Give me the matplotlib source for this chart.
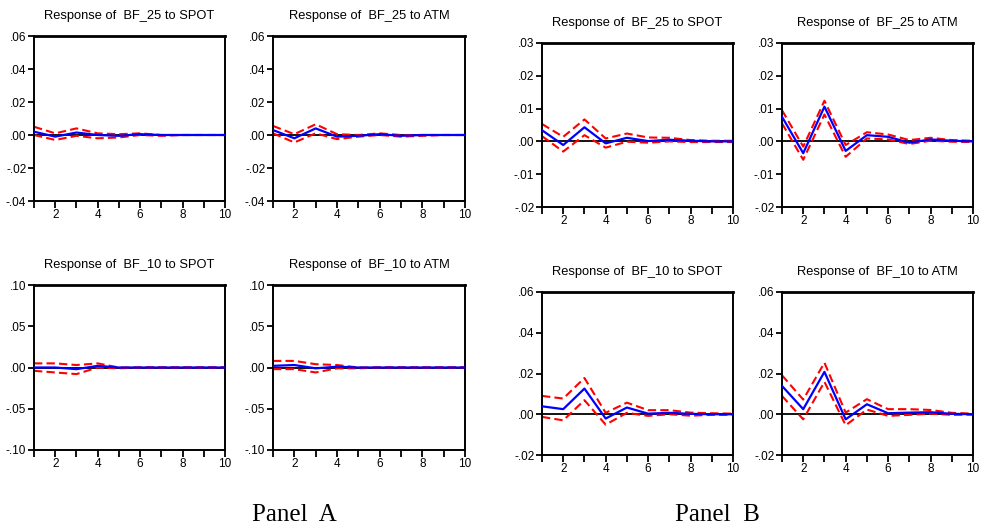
import numpy as np
import matplotlib
matplotlib.use('Agg')
import matplotlib.pyplot as plt
from matplotlib.ticker import FuncFormatter

periods = np.arange(1, 11)

# Panel A
a_25_spot = [0.002, -0.001, 0.0015, 0.0, -0.0005, 0.0005, 0.0, 0.0, 0.0, 0.0]
a_25_spot_hi = [0.005, 0.001, 0.004, 0.001, 0.0005, 0.001, 0.0, 0.0, 0.0, 0.0]
a_25_spot_lo = [0.0, -0.003, -0.0005, -0.002, -0.0015, 0.0, -0.0005, 0.0, 0.0, 0.0]

a_25_atm = [0.003, -0.002, 0.004, -0.001, -0.0005, 0.0005, -0.0005, 0.0, 0.0, 0.0]
a_25_atm_hi = [0.0055, 0.0005, 0.0065, 0.0005, 0.0, 0.001, 0.0, 0.0, 0.0, 0.0]
a_25_atm_lo = [0.001, -0.0045, 0.001, -0.0025, -0.001, 0.0, -0.001, -0.0005, 0.0, 0.0]

a_10_spot = [0.0, 0.0, -0.002, 0.002, 0.0, 0.0, 0.0, 0.0, 0.0, 0.0]
a_10_spot_hi = [0.005, 0.005, 0.003, 0.005, 0.0, 0.0, 0.0, 0.0, 0.0, 0.0]
a_10_spot_lo = [-0.004, -0.006, -0.008, 0.0, -0.001, 0.0, 0.0, 0.0, 0.0, 0.0]

a_10_atm = [0.002, 0.003, -0.001, 0.001, 0.0, 0.0, 0.0, 0.0, 0.0, 0.0]
a_10_atm_hi = [0.008, 0.008, 0.004, 0.003, 0.0, 0.0, 0.0, 0.0, 0.0, 0.0]
a_10_atm_lo = [-0.002, -0.002, -0.006, -0.001, -0.001, 0.0, 0.0, 0.0, 0.0, 0.0]

# Panel B
b_25_spot = [0.0034, -0.0011, 0.0043, -0.0006, 0.0011, 0.0001, 0.0005, 0.0002, 0.0, 0.0]
b_25_spot_hi = [0.0053, 0.0014, 0.0067, 0.0009, 0.0024, 0.0012, 0.0011, 0.0004, 0.0002, 0.0002]
b_25_spot_lo = [0.0016, -0.0031, 0.0019, -0.0019, -0.0001, -0.0004, 0.0, -0.0002, -0.0002, -0.0002]

b_25_atm = [0.0075, -0.0036, 0.0106, -0.0029, 0.0019, 0.0014, -0.0004, 0.0006, 0.0002, 0.0]
b_25_atm_hi = [0.0095, -0.0016, 0.0124, -0.0011, 0.0028, 0.0021, 0.0004, 0.0011, 0.0004, 0.0002]
b_25_atm_lo = [0.0055, -0.0056, 0.0082, -0.0047, 0.0009, 0.0006, -0.0008, 0.0002, -0.0001, -0.0002]

b_10_spot = [0.0039, 0.0025, 0.0126, -0.0021, 0.0033, 0.0003, 0.0007, 0.0002, 0.0, 0.0]
b_10_spot_hi = [0.009, 0.0077, 0.0178, 0.0007, 0.0057, 0.002, 0.002, 0.0008, 0.0005, 0.0003]
b_10_spot_lo = [-0.0013, -0.003, 0.0069, -0.0051, 0.0007, -0.0008, 0.0, -0.0007, -0.0003, -0.0003]

b_10_atm = [0.0139, 0.0025, 0.0208, -0.0025, 0.0049, 0.0005, 0.0008, 0.001, 0.0002, 0.0]
b_10_atm_hi = [0.0191, 0.0072, 0.0253, 0.0008, 0.0074, 0.0025, 0.0025, 0.0021, 0.0007, 0.0003]
b_10_atm_lo = [0.009, -0.0025, 0.0159, -0.0054, 0.0023, -0.0008, -0.0003, 0.0003, -0.0003, -0.0002]

W, H = 985, 529
fig = plt.figure(figsize=(W / 100, H / 100), dpi=100)
plt.rcParams['font.family'] = ['Liberation Sans', 'DejaVu Sans']


def fmt(v, pos):
    s = '%.2f' % v
    if s.startswith('-0'):
        return '-' + s[2:]
    if s.startswith('0'):
        return s[1:]
    return s


def panel(box, title, mid, hi, lo, ylim, yticks):
    l, t, r, b = box
    ax = fig.add_axes([l / W, 1 - b / H, (r - l) / W, (b - t) / H])
    ax.axhline(0, color='black', lw=1.3, zorder=1)
    ax.plot(periods, mid, color='#0000ff', lw=1.6, zorder=3)
    ax.plot(periods, hi, color='#ff0000', lw=1.5, ls=(0, (4, 2)), zorder=2)
    ax.plot(periods, lo, color='#ff0000', lw=1.5, ls=(0, (4, 2)), zorder=2)
    ax.set_xlim(1, 10)
    ax.set_ylim(*ylim)
    ax.set_yticks(yticks)
    ax.yaxis.set_major_formatter(FuncFormatter(fmt))
    ax.set_xticks([2, 4, 6, 8, 10])
    ax.set_xticks([1, 3, 5, 7, 9], minor=True)
    ax.tick_params(axis='both', which='both', direction='out', length=4,
                   width=1.3, labelsize=8.5, pad=1.5)
    ax.tick_params(axis='x', which='both', length=5, pad=1)
    for sp in ax.spines.values():
        sp.set_linewidth(1.4)
    ax.spines['top'].set_linewidth(2.0)
    ax.set_title(title, fontsize=9.3, pad=12)
    return ax


ya1 = (-0.04, 0.06)
ya1t = [-0.04, -0.02, 0.0, 0.02, 0.04, 0.06]
ya2 = (-0.10, 0.10)
ya2t = [-0.10, -0.05, 0.0, 0.05, 0.10]
yb1 = (-0.02, 0.03)
yb1t = [-0.02, -0.01, 0.0, 0.01, 0.02, 0.03]
yb2 = (-0.02, 0.06)
yb2t = [-0.02, 0.0, 0.02, 0.04, 0.06]

panel((34, 36, 225, 201), 'Response of  BF_25 to SPOT', a_25_spot, a_25_spot_hi, a_25_spot_lo, ya1, ya1t)
panel((273, 36, 465, 201), 'Response of  BF_25 to ATM', a_25_atm, a_25_atm_hi, a_25_atm_lo, ya1, ya1t)
panel((34, 285, 225, 450), 'Response of  BF_10 to SPOT', a_10_spot, a_10_spot_hi, a_10_spot_lo, ya2, ya2t)
panel((273, 285, 465, 450), 'Response of  BF_10 to ATM', a_10_atm, a_10_atm_hi, a_10_atm_lo, ya2, ya2t)

panel((542, 43, 733, 207), 'Response of  BF_25 to SPOT', b_25_spot, b_25_spot_hi, b_25_spot_lo, yb1, yb1t)
panel((782, 43, 973, 207), 'Response of  BF_25 to ATM', b_25_atm, b_25_atm_hi, b_25_atm_lo, yb1, yb1t)
panel((542, 292, 733, 455), 'Response of  BF_10 to SPOT', b_10_spot, b_10_spot_hi, b_10_spot_lo, yb2, yb2t)
panel((782, 292, 973, 455), 'Response of  BF_10 to ATM', b_10_atm, b_10_atm_hi, b_10_atm_lo, yb2, yb2t)

fig.text(294 / W, 1 - 515 / H, 'Panel  A', fontsize=18, family='Liberation Serif',
         ha='center', va='center')
fig.text(717 / W, 1 - 515 / H, 'Panel  B', fontsize=18, family='Liberation Serif',
         ha='center', va='center')

fig.savefig('out.png', dpi=100)
